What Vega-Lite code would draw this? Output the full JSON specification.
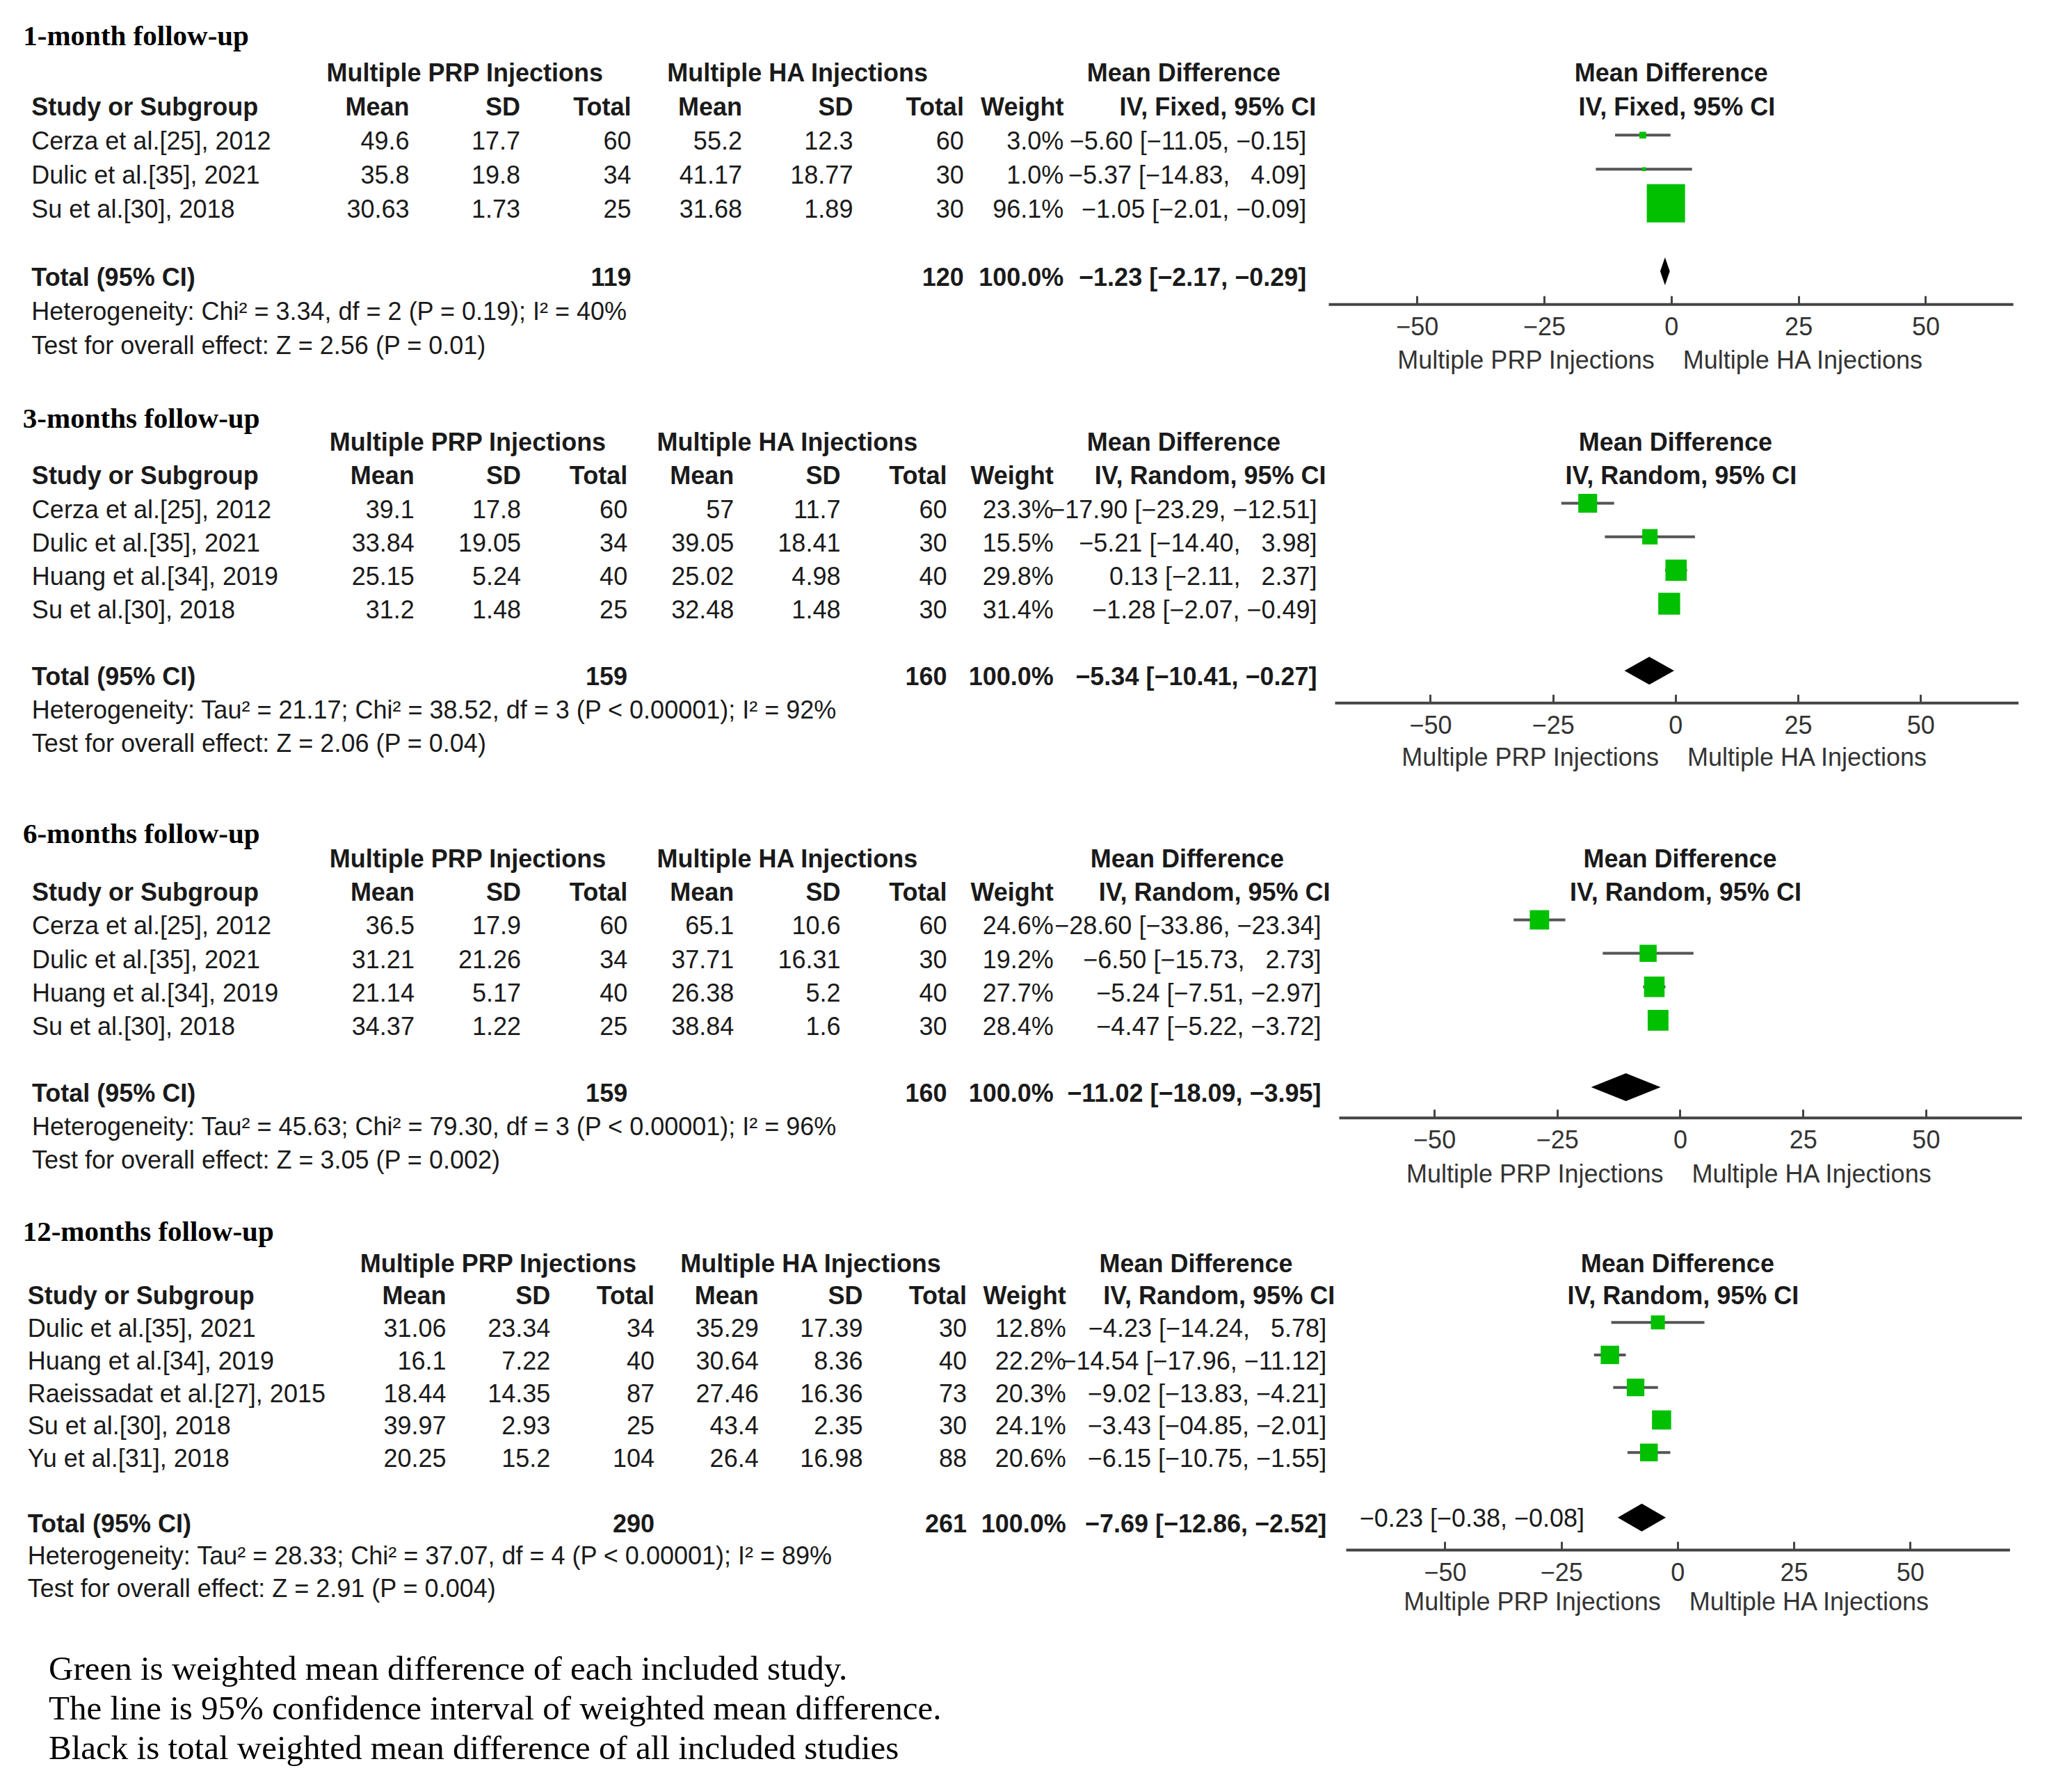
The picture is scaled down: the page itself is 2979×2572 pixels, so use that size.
{
"$schema": "https://vega.github.io/schema/vega-lite/v6.json",
"background": "white",
"padding": {"left": 17, "top": 0, "right": 0, "bottom": 0},
"spacing": 0,
"config": {"view": {"stroke": null}, "text": {"font": "Liberation Sans", "fontSize": 36, "color": "#1a1a1a"}},
"datasets": {
"head": [
{"r":0,"c":"grpA","t":"Multiple PRP Injections"},
{"r":0,"c":"grpB","t":"Multiple HA Injections"},
{"r":0,"c":"mdh","t":"Mean Difference"},
{"r":1,"c":"study","t":"Study or Subgroup"},
{"r":1,"c":"m1","t":"Mean"},{"r":1,"c":"sd1","t":"SD"},{"r":1,"c":"n1","t":"Total"},
{"r":1,"c":"m2","t":"Mean"},{"r":1,"c":"sd2","t":"SD"},{"r":1,"c":"n2","t":"Total"},
{"r":1,"c":"w","t":"Weight"}
],
"s1": [
{"kind":"study","r":2,"study":"Cerza et al.[25], 2012","m1":49.6,"sd1":17.7,"n1":60,"m2":55.2,"sd2":12.3,"n2":60,"w":0.030,"md":-5.60,"lo":-11.05,"hi":-0.15,"ci":"−5.60 [−11.05, −0.15]"},
{"kind":"study","r":3,"study":"Dulic et al.[35], 2021","m1":35.8,"sd1":19.8,"n1":34,"m2":41.17,"sd2":18.77,"n2":30,"w":0.010,"md":-5.37,"lo":-14.83,"hi":4.09,"ci":"−5.37 [−14.83, \u20074.09]"},
{"kind":"study","r":4,"study":"Su et al.[30], 2018","m1":30.63,"sd1":1.73,"n1":25,"m2":31.68,"sd2":1.89,"n2":30,"w":0.961,"md":-1.05,"lo":-2.01,"hi":-0.09,"ci":"−1.05 [−2.01, −0.09]"},
{"kind":"total","r":6,"study":"Total (95% CI)","n1":119,"n2":120,"w":1.0,"md":-1.23,"lo":-2.17,"hi":-0.29,"ci":"−1.23 [−2.17, −0.29]"}
],
"n1": [
{"r":7,"t":"Heterogeneity: Chi² = 3.34, df = 2 (P = 0.19); I² = 40%"},
{"r":8,"t":"Test for overall effect: Z = 2.56 (P = 0.01)"}
],
"s2": [
{"kind":"study","r":2,"study":"Cerza et al.[25], 2012","m1":39.1,"sd1":17.8,"n1":60,"m2":57,"sd2":11.7,"n2":60,"w":0.233,"md":-17.90,"lo":-23.29,"hi":-12.51,"ci":"−17.90 [−23.29, −12.51]"},
{"kind":"study","r":3,"study":"Dulic et al.[35], 2021","m1":33.84,"sd1":19.05,"n1":34,"m2":39.05,"sd2":18.41,"n2":30,"w":0.155,"md":-5.21,"lo":-14.40,"hi":3.98,"ci":"−5.21 [−14.40, \u20073.98]"},
{"kind":"study","r":4,"study":"Huang et al.[34], 2019","m1":25.15,"sd1":5.24,"n1":40,"m2":25.02,"sd2":4.98,"n2":40,"w":0.298,"md":0.13,"lo":-2.11,"hi":2.37,"ci":"0.13 [−2.11, \u20072.37]"},
{"kind":"study","r":5,"study":"Su et al.[30], 2018","m1":31.2,"sd1":1.48,"n1":25,"m2":32.48,"sd2":1.48,"n2":30,"w":0.314,"md":-1.28,"lo":-2.07,"hi":-0.49,"ci":"−1.28 [−2.07, −0.49]"},
{"kind":"total","r":7,"study":"Total (95% CI)","n1":159,"n2":160,"w":1.0,"md":-5.34,"lo":-10.41,"hi":-0.27,"ci":"−5.34 [−10.41, −0.27]"}
],
"n2": [
{"r":8,"t":"Heterogeneity: Tau² = 21.17; Chi² = 38.52, df = 3 (P < 0.00001); I² = 92%"},
{"r":9,"t":"Test for overall effect: Z = 2.06 (P = 0.04)"}
],
"s3": [
{"kind":"study","r":2,"study":"Cerza et al.[25], 2012","m1":36.5,"sd1":17.9,"n1":60,"m2":65.1,"sd2":10.6,"n2":60,"w":0.246,"md":-28.60,"lo":-33.86,"hi":-23.34,"ci":"−28.60 [−33.86, −23.34]"},
{"kind":"study","r":3,"study":"Dulic et al.[35], 2021","m1":31.21,"sd1":21.26,"n1":34,"m2":37.71,"sd2":16.31,"n2":30,"w":0.192,"md":-6.50,"lo":-15.73,"hi":2.73,"ci":"−6.50 [−15.73, \u20072.73]"},
{"kind":"study","r":4,"study":"Huang et al.[34], 2019","m1":21.14,"sd1":5.17,"n1":40,"m2":26.38,"sd2":5.2,"n2":40,"w":0.277,"md":-5.24,"lo":-7.51,"hi":-2.97,"ci":"−5.24 [−7.51, −2.97]"},
{"kind":"study","r":5,"study":"Su et al.[30], 2018","m1":34.37,"sd1":1.22,"n1":25,"m2":38.84,"sd2":1.6,"n2":30,"w":0.284,"md":-4.47,"lo":-5.22,"hi":-3.72,"ci":"−4.47 [−5.22, −3.72]"},
{"kind":"total","r":7,"study":"Total (95% CI)","n1":159,"n2":160,"w":1.0,"md":-11.02,"lo":-18.09,"hi":-3.95,"ci":"−11.02 [−18.09, −3.95]"}
],
"n3": [
{"r":8,"t":"Heterogeneity: Tau² = 45.63; Chi² = 79.30, df = 3 (P < 0.00001); I² = 96%"},
{"r":9,"t":"Test for overall effect: Z = 3.05 (P = 0.002)"}
],
"s4": [
{"kind":"study","r":2,"study":"Dulic et al.[35], 2021","m1":31.06,"sd1":23.34,"n1":34,"m2":35.29,"sd2":17.39,"n2":30,"w":0.128,"md":-4.23,"lo":-14.24,"hi":5.78,"ci":"−4.23 [−14.24, \u20075.78]"},
{"kind":"study","r":3,"study":"Huang et al.[34], 2019","m1":16.1,"sd1":7.22,"n1":40,"m2":30.64,"sd2":8.36,"n2":40,"w":0.222,"md":-14.54,"lo":-17.96,"hi":-11.12,"ci":"−14.54 [−17.96, −11.12]"},
{"kind":"study","r":4,"study":"Raeissadat et al.[27], 2015","m1":18.44,"sd1":14.35,"n1":87,"m2":27.46,"sd2":16.36,"n2":73,"w":0.203,"md":-9.02,"lo":-13.83,"hi":-4.21,"ci":"−9.02 [−13.83, −4.21]"},
{"kind":"study","r":5,"study":"Su et al.[30], 2018","m1":39.97,"sd1":2.93,"n1":25,"m2":43.4,"sd2":2.35,"n2":30,"w":0.241,"md":-3.43,"lo":-4.85,"hi":-2.01,"ci":"−3.43 [−04.85, −2.01]"},
{"kind":"study","r":6,"study":"Yu et al.[31], 2018","m1":20.25,"sd1":15.2,"n1":104,"m2":26.4,"sd2":16.98,"n2":88,"w":0.206,"md":-6.15,"lo":-10.75,"hi":-1.55,"ci":"−6.15 [−10.75, −1.55]"},
{"kind":"total","r":8,"study":"Total (95% CI)","n1":290,"n2":261,"w":1.0,"md":-7.69,"lo":-12.86,"hi":-2.52,"ci":"−7.69 [−12.86, −2.52]"}
],
"n4": [
{"r":9,"t":"Heterogeneity: Tau² = 28.33; Chi² = 37.07, df = 4 (P < 0.00001); I² = 89%"},
{"r":10,"t":"Test for overall effect: Z = 2.91 (P = 0.004)"}
]
},
"vconcat": [
{
"hconcat": [
{
"width": 1892.4, "height": 566.2,
"encoding": {"y": {"field": "r", "type": "quantitative", "scale": {"domain": [-2.175, 9.398], "reverse": true, "nice": false, "zero": false}, "axis": null}},
"layer": [
{"data": {"values": [{"r": -1.09, "t": "1-month follow-up"}]}, "mark": {"type": "text", "align": "left", "font": "Liberation Serif", "fontWeight": "bold", "fontSize": 41, "color": "#000", "dx": 3},
 "encoding": {"x": {"datum": "study", "type": "nominal", "scale": {"type": "point", "domain": ["study","_1","_2","_3","_4","_5","_6","m1","grpA","sd1","_10","n1","_12","m2","grpB","sd2","_16","n2","_18","w","_20","mdh","_22","ci"], "padding": 0.366, "align": 0.228}, "axis": null}, "text": {"field": "t", "type": "nominal"}}},
{"data": {"values": [{}]}, "mark": {"type": "rule", "color": "#444", "strokeWidth": 4}, "encoding": {"y": {"datum": 1.32, "type": "quantitative", "axis": null}}},
{"data": {"name": "head"}, "transform": [{"filter": "datum.c == 'grpA' || datum.c == 'grpB'"}], "mark": {"type": "text", "align": "center", "fontWeight": "bold"}, "encoding": {"x": {"field": "c", "type": "nominal", "axis": null}, "text": {"field": "t", "type": "nominal"}}},
{"data": {"name": "head"}, "transform": [{"filter": "datum.c == 'mdh'"}], "mark": {"type": "text", "align": "center", "fontWeight": "bold", "dx": -3}, "encoding": {"x": {"field": "c", "type": "nominal", "axis": null}, "text": {"field": "t", "type": "nominal"}}},
{"data": {"name": "head"}, "transform": [{"filter": "indexof(['m1','sd1','n1','m2','sd2','n2'], datum.c) >= 0"}], "mark": {"type": "text", "align": "right", "fontWeight": "bold"}, "encoding": {"x": {"field": "c", "type": "nominal", "axis": null}, "text": {"field": "t", "type": "nominal"}}},
{"data": {"name": "head"}, "transform": [{"filter": "datum.c == 'w'"}], "mark": {"type": "text", "align": "right", "fontWeight": "bold", "dx": -16}, "encoding": {"x": {"field": "c", "type": "nominal", "axis": null}, "text": {"field": "t", "type": "nominal"}}},
{"data": {"name": "head"}, "transform": [{"filter": "datum.c == 'study'"}], "mark": {"type": "text", "align": "left", "fontWeight": "bold", "dx": 15}, "encoding": {"x": {"field": "c", "type": "nominal", "axis": null}, "text": {"field": "t", "type": "nominal"}}},
{"data": {"values": [{"r": 1, "t": "IV, Fixed, 95% CI"}]}, "mark": {"type": "text", "align": "right", "fontWeight": "bold", "dx": 28}, "encoding": {"x": {"datum": "ci", "type": "nominal", "axis": null}, "text": {"field": "t", "type": "nominal"}}},
{"data": {"name": "n1"}, "mark": {"type": "text", "align": "left", "dx": 15}, "encoding": {"x": {"datum": "study", "type": "nominal", "axis": null}, "text": {"field": "t", "type": "nominal"}}},
{"data": {"name": "s1"}, "transform": [{"filter": "datum.kind == 'study'"}], "mark": {"type": "text", "align": "left", "dx": 15}, "encoding": {"x": {"datum": "study", "type": "nominal", "axis": null}, "text": {"field": "study", "type": "nominal"}}},
{"data": {"name": "s1"}, "transform": [{"filter": "datum.kind == 'total'"}], "mark": {"type": "text", "align": "left", "fontWeight": "bold", "dx": 15}, "encoding": {"x": {"datum": "study", "type": "nominal", "axis": null}, "text": {"field": "study", "type": "nominal"}}},
{"data": {"name": "s1"}, "transform": [{"filter": "datum.kind == 'study'"}, {"fold": ["m1","sd1","n1","m2","sd2","n2"], "as": ["key","value"]}], "mark": {"type": "text", "align": "right"}, "encoding": {"x": {"field": "key", "type": "nominal", "axis": null}, "text": {"field": "value", "type": "nominal"}}},
{"data": {"name": "s1"}, "transform": [{"filter": "datum.kind == 'total'"}, {"fold": ["n1","n2"], "as": ["key","value"]}], "mark": {"type": "text", "align": "right", "fontWeight": "bold"}, "encoding": {"x": {"field": "key", "type": "nominal", "axis": null}, "text": {"field": "value", "type": "nominal"}}},
{"data": {"name": "s1"}, "transform": [{"filter": "datum.kind == 'study'"}], "mark": {"type": "text", "align": "right", "dx": -16}, "encoding": {"x": {"datum": "w", "type": "nominal", "axis": null}, "text": {"field": "w", "type": "quantitative", "format": ".1%"}}},
{"data": {"name": "s1"}, "transform": [{"filter": "datum.kind == 'total'"}], "mark": {"type": "text", "align": "right", "fontWeight": "bold", "dx": -16}, "encoding": {"x": {"datum": "w", "type": "nominal", "axis": null}, "text": {"field": "w", "type": "quantitative", "format": ".1%"}}},
{"data": {"name": "s1"}, "transform": [{"filter": "datum.kind == 'study'"}], "mark": {"type": "text", "align": "right", "dx": 14}, "encoding": {"x": {"datum": "ci", "type": "nominal", "axis": null}, "text": {"field": "ci", "type": "nominal"}}},
{"data": {"name": "s1"}, "transform": [{"filter": "datum.kind == 'total'"}], "mark": {"type": "text", "align": "right", "fontWeight": "bold", "dx": 14}, "encoding": {"x": {"datum": "ci", "type": "nominal", "axis": null}, "text": {"field": "ci", "type": "nominal"}}}
]
},
{
"width": 984.2, "height": 437.2,
"encoding": {"y": {"field": "r", "type": "quantitative", "scale": {"domain": [-2.175, 6.76], "reverse": true, "nice": false, "zero": false}, "axis": null}},
"layer": [
{"data": {"values": [{}]}, "mark": {"type": "rule", "color": "#444", "strokeWidth": 2.5},
 "encoding": {"x": {"datum": 0, "type": "quantitative", "scale": {"domain": [-67.4, 67.2], "nice": false, "zero": false}, "axis": {"values": [-50,-25,0,25,50], "title": null, "grid": false, "domainColor": "#444", "domainWidth": 4, "tickColor": "#444", "tickWidth": 3, "tickSize": -12, "labelFont": "Liberation Sans", "labelFontSize": 36, "labelColor": "#333", "labelPadding": 28, "labelFlush": false, "labelOverlap": false}},
  "y": {"datum": 1.32, "type": "quantitative", "axis": null}, "y2": {"datum": 6.76}}},
{"data": {"values": [{}]}, "mark": {"type": "rule", "color": "#444", "strokeWidth": 4}, "encoding": {"x": {"datum": -67.4, "type": "quantitative"}, "x2": {"datum": 72.6}, "y": {"datum": 1.32, "type": "quantitative", "axis": null}}},
{"data": {"values": [{"r": 0, "t": "Mean Difference"}]}, "mark": {"type": "text", "align": "center", "fontWeight": "bold"}, "encoding": {"x": {"datum": 0, "type": "quantitative"}, "text": {"field": "t", "type": "nominal"}}},
{"data": {"values": [{"r": 1, "t": "IV, Fixed, 95% CI"}]}, "mark": {"type": "text", "align": "center", "fontWeight": "bold", "dx": 8}, "encoding": {"x": {"datum": 0, "type": "quantitative"}, "text": {"field": "t", "type": "nominal"}}},
{"data": {"name": "s1"}, "transform": [{"filter": "datum.kind == 'study'"}], "mark": {"type": "rule", "color": "#555", "strokeWidth": 4, "yOffset": -10}, "encoding": {"x": {"field": "lo", "type": "quantitative"}, "x2": {"field": "hi"}}},
{"data": {"name": "s1"}, "transform": [{"filter": "datum.kind == 'study'"}], "mark": {"type": "point", "shape": "square", "filled": true, "color": "#00c000", "opacity": 1, "yOffset": -10}, "encoding": {"x": {"field": "md", "type": "quantitative"}, "size": {"field": "w", "type": "quantitative", "scale": {"domain": [0, 1], "range": [0, 3150]}, "legend": null}}},
{"data": {"name": "s1"}, "transform": [{"filter": "datum.kind == 'total'"}], "mark": {"type": "point", "shape": "M-0.344,0L0,-1L0.344,0L0,1Z", "filled": true, "color": "#000", "opacity": 1, "size": 1600, "yOffset": -10}, "encoding": {"x": {"field": "md", "type": "quantitative"}}},
{"data": {"values": [{"r": 8.43, "t": "Multiple PRP Injections"}]}, "mark": {"type": "text", "align": "right", "dx": -24, "color": "#333"}, "encoding": {"x": {"datum": 0, "type": "quantitative"}, "text": {"field": "t", "type": "nominal"}}},
{"data": {"values": [{"r": 8.43, "t": "Multiple HA Injections"}]}, "mark": {"type": "text", "align": "left", "dx": 17, "color": "#333"}, "encoding": {"x": {"datum": 0, "type": "quantitative"}, "text": {"field": "t", "type": "nominal"}}}
]
}
],
"spacing": 0, "bounds": "flush"
},
{
"hconcat": [
{
"width": 1901.9, "height": 596.6,
"encoding": {"y": {"field": "r", "type": "quantitative", "scale": {"domain": [-1.461, 10.936], "reverse": true, "nice": false, "zero": false}, "axis": null}},
"layer": [
{"data": {"values": [{"r": -0.71, "t": "3-months follow-up"}]}, "mark": {"type": "text", "align": "left", "font": "Liberation Serif", "fontWeight": "bold", "fontSize": 41, "color": "#000", "dx": -27},
 "encoding": {"x": {"datum": "study", "type": "nominal", "scale": {"type": "point", "domain": ["study","_1","_2","_3","_4","_5","_6","m1","grpA","sd1","_10","n1","_12","m2","grpB","sd2","_16","n2","_18","w","_20","mdh","_22","_23","ci"], "padding": 0.419, "align": 0.668}, "axis": null}, "text": {"field": "t", "type": "nominal"}}},
{"data": {"values": [{}]}, "mark": {"type": "rule", "color": "#444", "strokeWidth": 4}, "encoding": {"y": {"datum": 1.32, "type": "quantitative", "axis": null}}},
{"data": {"name": "head"}, "transform": [{"filter": "datum.c == 'grpA' || datum.c == 'grpB'"}], "mark": {"type": "text", "align": "center", "fontWeight": "bold"}, "encoding": {"x": {"field": "c", "type": "nominal", "axis": null}, "text": {"field": "t", "type": "nominal"}}},
{"data": {"name": "head"}, "transform": [{"filter": "datum.c == 'mdh'"}], "mark": {"type": "text", "align": "center", "fontWeight": "bold", "dx": 34}, "encoding": {"x": {"field": "c", "type": "nominal", "axis": null}, "text": {"field": "t", "type": "nominal"}}},
{"data": {"name": "head"}, "transform": [{"filter": "indexof(['m1','sd1','n1','m2','sd2','n2','w'], datum.c) >= 0"}], "mark": {"type": "text", "align": "right", "fontWeight": "bold"}, "encoding": {"x": {"field": "c", "type": "nominal", "axis": null}, "text": {"field": "t", "type": "nominal"}}},
{"data": {"name": "head"}, "transform": [{"filter": "datum.c == 'study'"}], "mark": {"type": "text", "align": "left", "fontWeight": "bold", "dx": -14}, "encoding": {"x": {"field": "c", "type": "nominal", "axis": null}, "text": {"field": "t", "type": "nominal"}}},
{"data": {"values": [{"r": 1, "t": "IV, Random, 95% CI"}]}, "mark": {"type": "text", "align": "right", "fontWeight": "bold", "dx": 9}, "encoding": {"x": {"datum": "ci", "type": "nominal", "axis": null}, "text": {"field": "t", "type": "nominal"}}},
{"data": {"name": "n2"}, "mark": {"type": "text", "align": "left", "dx": -14}, "encoding": {"x": {"datum": "study", "type": "nominal", "axis": null}, "text": {"field": "t", "type": "nominal"}}},
{"data": {"name": "s2"}, "transform": [{"filter": "datum.kind == 'study'"}], "mark": {"type": "text", "align": "left", "dx": -14}, "encoding": {"x": {"datum": "study", "type": "nominal", "axis": null}, "text": {"field": "study", "type": "nominal"}}},
{"data": {"name": "s2"}, "transform": [{"filter": "datum.kind == 'total'"}], "mark": {"type": "text", "align": "left", "fontWeight": "bold", "dx": -14}, "encoding": {"x": {"datum": "study", "type": "nominal", "axis": null}, "text": {"field": "study", "type": "nominal"}}},
{"data": {"name": "s2"}, "transform": [{"filter": "datum.kind == 'study'"}, {"fold": ["m1","sd1","n1","m2","sd2","n2"], "as": ["key","value"]}], "mark": {"type": "text", "align": "right"}, "encoding": {"x": {"field": "key", "type": "nominal", "axis": null}, "text": {"field": "value", "type": "nominal"}}},
{"data": {"name": "s2"}, "transform": [{"filter": "datum.kind == 'total'"}, {"fold": ["n1","n2"], "as": ["key","value"]}], "mark": {"type": "text", "align": "right", "fontWeight": "bold"}, "encoding": {"x": {"field": "key", "type": "nominal", "axis": null}, "text": {"field": "value", "type": "nominal"}}},
{"data": {"name": "s2"}, "transform": [{"filter": "datum.kind == 'study'"}], "mark": {"type": "text", "align": "right"}, "encoding": {"x": {"datum": "w", "type": "nominal", "axis": null}, "text": {"field": "w", "type": "quantitative", "format": ".1%"}}},
{"data": {"name": "s2"}, "transform": [{"filter": "datum.kind == 'total'"}], "mark": {"type": "text", "align": "right", "fontWeight": "bold"}, "encoding": {"x": {"datum": "w", "type": "nominal", "axis": null}, "text": {"field": "w", "type": "quantitative", "format": ".1%"}}},
{"data": {"name": "s2"}, "transform": [{"filter": "datum.kind == 'study'"}], "mark": {"type": "text", "align": "right", "dx": -4}, "encoding": {"x": {"datum": "ci", "type": "nominal", "axis": null}, "text": {"field": "ci", "type": "nominal"}}},
{"data": {"name": "s2"}, "transform": [{"filter": "datum.kind == 'total'"}], "mark": {"type": "text", "align": "right", "fontWeight": "bold", "dx": -4}, "encoding": {"x": {"datum": "ci", "type": "nominal", "axis": null}, "text": {"field": "ci", "type": "nominal"}}}
]
},
{
"width": 982.6, "height": 443.3,
"encoding": {"y": {"field": "r", "type": "quantitative", "scale": {"domain": [-1.461, 7.75], "reverse": true, "nice": false, "zero": false}, "axis": null}},
"layer": [
{"data": {"values": [{}]}, "mark": {"type": "rule", "color": "#444", "strokeWidth": 2.5},
 "encoding": {"x": {"datum": 0, "type": "quantitative", "scale": {"domain": [-69.5, 69.9], "nice": false, "zero": false}, "axis": {"values": [-50,-25,0,25,50], "title": null, "grid": false, "domainColor": "#444", "domainWidth": 4, "tickColor": "#444", "tickWidth": 3, "tickSize": -12, "labelFont": "Liberation Sans", "labelFontSize": 36, "labelColor": "#333", "labelPadding": 28, "labelFlush": false, "labelOverlap": false}},
  "y": {"datum": 1.32, "type": "quantitative", "axis": null}, "y2": {"datum": 7.75}}},
{"data": {"values": [{}]}, "mark": {"type": "rule", "color": "#444", "strokeWidth": 4}, "encoding": {"x": {"datum": -69.5, "type": "quantitative"}, "x2": {"datum": 74.8}, "y": {"datum": 1.32, "type": "quantitative", "axis": null}}},
{"data": {"values": [{"r": 0, "t": "Mean Difference"}]}, "mark": {"type": "text", "align": "center", "fontWeight": "bold"}, "encoding": {"x": {"datum": 0, "type": "quantitative"}, "text": {"field": "t", "type": "nominal"}}},
{"data": {"values": [{"r": 1, "t": "IV, Random, 95% CI"}]}, "mark": {"type": "text", "align": "center", "fontWeight": "bold", "dx": 8}, "encoding": {"x": {"datum": 0, "type": "quantitative"}, "text": {"field": "t", "type": "nominal"}}},
{"data": {"name": "s2"}, "transform": [{"filter": "datum.kind == 'study'"}], "mark": {"type": "rule", "color": "#555", "strokeWidth": 4, "yOffset": -10}, "encoding": {"x": {"field": "lo", "type": "quantitative"}, "x2": {"field": "hi"}}},
{"data": {"name": "s2"}, "transform": [{"filter": "datum.kind == 'study'"}], "mark": {"type": "point", "shape": "square", "filled": true, "color": "#00c000", "opacity": 1, "yOffset": -10}, "encoding": {"x": {"field": "md", "type": "quantitative"}, "size": {"field": "w", "type": "quantitative", "scale": {"domain": [0, 1], "range": [0, 1500]}, "legend": null}}},
{"data": {"name": "s2"}, "transform": [{"filter": "datum.kind == 'total'"}], "mark": {"type": "point", "shape": "M-1.785,0L0,-1L1.785,0L0,1Z", "filled": true, "color": "#000", "opacity": 1, "size": 1600, "yOffset": -10}, "encoding": {"x": {"field": "md", "type": "quantitative"}}},
{"data": {"values": [{"r": 9.4, "t": "Multiple PRP Injections"}]}, "mark": {"type": "text", "align": "right", "dx": -24, "color": "#333"}, "encoding": {"x": {"datum": 0, "type": "quantitative"}, "text": {"field": "t", "type": "nominal"}}},
{"data": {"values": [{"r": 9.4, "t": "Multiple HA Injections"}]}, "mark": {"type": "text", "align": "left", "dx": 17, "color": "#333"}, "encoding": {"x": {"datum": 0, "type": "quantitative"}, "text": {"field": "t", "type": "nominal"}}}
]
}
],
"spacing": 0, "bounds": "flush"
},
{
"hconcat": [
{
"width": 1907.6, "height": 571.9,
"encoding": {"y": {"field": "r", "type": "quantitative", "scale": {"domain": [-1.5, 10.383], "reverse": true, "nice": false, "zero": false}, "axis": null}},
"layer": [
{"data": {"values": [{"r": -0.75, "t": "6-months follow-up"}]}, "mark": {"type": "text", "align": "left", "font": "Liberation Serif", "fontWeight": "bold", "fontSize": 41, "color": "#000", "dx": -27},
 "encoding": {"x": {"datum": "study", "type": "nominal", "scale": {"type": "point", "domain": ["study","_1","_2","_3","_4","_5","_6","m1","grpA","sd1","_10","n1","_12","m2","grpB","sd2","_16","n2","_18","w","_20","mdh","_22","_23","ci"], "padding": 0.4565, "align": 0.614}, "axis": null}, "text": {"field": "t", "type": "nominal"}}},
{"data": {"values": [{}]}, "mark": {"type": "rule", "color": "#444", "strokeWidth": 4}, "encoding": {"y": {"datum": 1.3, "type": "quantitative", "axis": null}}},
{"data": {"name": "head"}, "transform": [{"filter": "datum.c == 'grpA' || datum.c == 'grpB'"}], "mark": {"type": "text", "align": "center", "fontWeight": "bold"}, "encoding": {"x": {"field": "c", "type": "nominal", "axis": null}, "text": {"field": "t", "type": "nominal"}}},
{"data": {"name": "head"}, "transform": [{"filter": "datum.c == 'mdh'"}], "mark": {"type": "text", "align": "center", "fontWeight": "bold", "dx": 39}, "encoding": {"x": {"field": "c", "type": "nominal", "axis": null}, "text": {"field": "t", "type": "nominal"}}},
{"data": {"name": "head"}, "transform": [{"filter": "indexof(['m1','sd1','n1','m2','sd2','n2','w'], datum.c) >= 0"}], "mark": {"type": "text", "align": "right", "fontWeight": "bold"}, "encoding": {"x": {"field": "c", "type": "nominal", "axis": null}, "text": {"field": "t", "type": "nominal"}}},
{"data": {"name": "head"}, "transform": [{"filter": "datum.c == 'study'"}], "mark": {"type": "text", "align": "left", "fontWeight": "bold", "dx": -14}, "encoding": {"x": {"field": "c", "type": "nominal", "axis": null}, "text": {"field": "t", "type": "nominal"}}},
{"data": {"values": [{"r": 1, "t": "IV, Random, 95% CI"}]}, "mark": {"type": "text", "align": "right", "fontWeight": "bold", "dx": 15}, "encoding": {"x": {"datum": "ci", "type": "nominal", "axis": null}, "text": {"field": "t", "type": "nominal"}}},
{"data": {"name": "n3"}, "mark": {"type": "text", "align": "left", "dx": -14}, "encoding": {"x": {"datum": "study", "type": "nominal", "axis": null}, "text": {"field": "t", "type": "nominal"}}},
{"data": {"name": "s3"}, "transform": [{"filter": "datum.kind == 'study'"}], "mark": {"type": "text", "align": "left", "dx": -14}, "encoding": {"x": {"datum": "study", "type": "nominal", "axis": null}, "text": {"field": "study", "type": "nominal"}}},
{"data": {"name": "s3"}, "transform": [{"filter": "datum.kind == 'total'"}], "mark": {"type": "text", "align": "left", "fontWeight": "bold", "dx": -14}, "encoding": {"x": {"datum": "study", "type": "nominal", "axis": null}, "text": {"field": "study", "type": "nominal"}}},
{"data": {"name": "s3"}, "transform": [{"filter": "datum.kind == 'study'"}, {"fold": ["m1","sd1","n1","m2","sd2","n2"], "as": ["key","value"]}], "mark": {"type": "text", "align": "right"}, "encoding": {"x": {"field": "key", "type": "nominal", "axis": null}, "text": {"field": "value", "type": "nominal"}}},
{"data": {"name": "s3"}, "transform": [{"filter": "datum.kind == 'total'"}, {"fold": ["n1","n2"], "as": ["key","value"]}], "mark": {"type": "text", "align": "right", "fontWeight": "bold"}, "encoding": {"x": {"field": "key", "type": "nominal", "axis": null}, "text": {"field": "value", "type": "nominal"}}},
{"data": {"name": "s3"}, "transform": [{"filter": "datum.kind == 'study'"}], "mark": {"type": "text", "align": "right"}, "encoding": {"x": {"datum": "w", "type": "nominal", "axis": null}, "text": {"field": "w", "type": "quantitative", "format": ".1%"}}},
{"data": {"name": "s3"}, "transform": [{"filter": "datum.kind == 'total'"}], "mark": {"type": "text", "align": "right", "fontWeight": "bold"}, "encoding": {"x": {"datum": "w", "type": "nominal", "axis": null}, "text": {"field": "w", "type": "quantitative", "format": ".1%"}}},
{"data": {"name": "s3"}, "transform": [{"filter": "datum.kind == 'study'"}], "mark": {"type": "text", "align": "right", "dx": 2}, "encoding": {"x": {"datum": "ci", "type": "nominal", "axis": null}, "text": {"field": "ci", "type": "nominal"}}},
{"data": {"name": "s3"}, "transform": [{"filter": "datum.kind == 'total'"}], "mark": {"type": "text", "align": "right", "fontWeight": "bold", "dx": 2}, "encoding": {"x": {"datum": "ci", "type": "nominal", "axis": null}, "text": {"field": "ci", "type": "nominal"}}}
]
},
{
"width": 981.7, "height": 442.8,
"encoding": {"y": {"field": "r", "type": "quantitative", "scale": {"domain": [-1.5, 7.7], "reverse": true, "nice": false, "zero": false}, "axis": null}},
"layer": [
{"data": {"values": [{}]}, "mark": {"type": "rule", "color": "#444", "strokeWidth": 2.5},
 "encoding": {"x": {"datum": 0, "type": "quantitative", "scale": {"domain": [-69.4, 69.5], "nice": false, "zero": false}, "axis": {"values": [-50,-25,0,25,50], "title": null, "grid": false, "domainColor": "#444", "domainWidth": 4, "tickColor": "#444", "tickWidth": 3, "tickSize": -12, "labelFont": "Liberation Sans", "labelFontSize": 36, "labelColor": "#333", "labelPadding": 28, "labelFlush": false, "labelOverlap": false}},
  "y": {"datum": 1.3, "type": "quantitative", "axis": null}, "y2": {"datum": 7.7}}},
{"data": {"values": [{}]}, "mark": {"type": "rule", "color": "#444", "strokeWidth": 4}, "encoding": {"x": {"datum": -69.4, "type": "quantitative"}, "x2": {"datum": 74.5}, "y": {"datum": 1.3, "type": "quantitative", "axis": null}}},
{"data": {"values": [{"r": 0, "t": "Mean Difference"}]}, "mark": {"type": "text", "align": "center", "fontWeight": "bold"}, "encoding": {"x": {"datum": 0, "type": "quantitative"}, "text": {"field": "t", "type": "nominal"}}},
{"data": {"values": [{"r": 1, "t": "IV, Random, 95% CI"}]}, "mark": {"type": "text", "align": "center", "fontWeight": "bold", "dx": 8}, "encoding": {"x": {"datum": 0, "type": "quantitative"}, "text": {"field": "t", "type": "nominal"}}},
{"data": {"name": "s3"}, "transform": [{"filter": "datum.kind == 'study'"}], "mark": {"type": "rule", "color": "#555", "strokeWidth": 4, "yOffset": -10}, "encoding": {"x": {"field": "lo", "type": "quantitative"}, "x2": {"field": "hi"}}},
{"data": {"name": "s3"}, "transform": [{"filter": "datum.kind == 'study'"}], "mark": {"type": "point", "shape": "square", "filled": true, "color": "#00c000", "opacity": 1, "yOffset": -10}, "encoding": {"x": {"field": "md", "type": "quantitative"}, "size": {"field": "w", "type": "quantitative", "scale": {"domain": [0, 1], "range": [0, 1500]}, "legend": null}}},
{"data": {"name": "s3"}, "transform": [{"filter": "datum.kind == 'total'"}], "mark": {"type": "point", "shape": "M-2.5,0L0,-1L2.5,0L0,1Z", "filled": true, "color": "#000", "opacity": 1, "size": 1600, "yOffset": -10}, "encoding": {"x": {"field": "md", "type": "quantitative"}}},
{"data": {"values": [{"r": 9.4, "t": "Multiple PRP Injections"}]}, "mark": {"type": "text", "align": "right", "dx": -24, "color": "#333"}, "encoding": {"x": {"datum": 0, "type": "quantitative"}, "text": {"field": "t", "type": "nominal"}}},
{"data": {"values": [{"r": 9.4, "t": "Multiple HA Injections"}]}, "mark": {"type": "text", "align": "left", "dx": 17, "color": "#333"}, "encoding": {"x": {"datum": 0, "type": "quantitative"}, "text": {"field": "t", "type": "nominal"}}}
]
}
],
"spacing": 0, "bounds": "flush"
},
{
"hconcat": [
{
"width": 1917.1, "height": 621.3,
"encoding": {"y": {"field": "r", "type": "quantitative", "scale": {"domain": [-1.748, 11.545], "reverse": true, "nice": false, "zero": false}, "axis": null}},
"layer": [
{"data": {"values": [{"r": -0.98, "t": "12-months follow-up"}]}, "mark": {"type": "text", "align": "left", "font": "Liberation Serif", "fontWeight": "bold", "fontSize": 41, "color": "#000", "dx": -10},
 "encoding": {"x": {"datum": "study", "type": "nominal", "scale": {"type": "point", "domain": ["study","_1","_2","_3","_4","_5","_6","_7","m1","grpA","sd1","_11","n1","_13","m2","grpB","sd2","_17","n2","_19","w","_21","mdh","_23","_24","ci"], "padding": 0.3046, "align": 0.5625}, "axis": null}, "text": {"field": "t", "type": "nominal"}}},
{"data": {"values": [{}]}, "mark": {"type": "rule", "color": "#444", "strokeWidth": 4}, "encoding": {"y": {"datum": 1.3, "type": "quantitative", "axis": null}}},
{"data": {"name": "head"}, "transform": [{"filter": "datum.c == 'grpA' || datum.c == 'grpB'"}], "mark": {"type": "text", "align": "center", "fontWeight": "bold"}, "encoding": {"x": {"field": "c", "type": "nominal", "axis": null}, "text": {"field": "t", "type": "nominal"}}},
{"data": {"name": "head"}, "transform": [{"filter": "datum.c == 'mdh'"}], "mark": {"type": "text", "align": "center", "fontWeight": "bold", "dx": 30}, "encoding": {"x": {"field": "c", "type": "nominal", "axis": null}, "text": {"field": "t", "type": "nominal"}}},
{"data": {"name": "head"}, "transform": [{"filter": "indexof(['m1','sd1','n1','m2','sd2','n2'], datum.c) >= 0"}], "mark": {"type": "text", "align": "right", "fontWeight": "bold"}, "encoding": {"x": {"field": "c", "type": "nominal", "axis": null}, "text": {"field": "t", "type": "nominal"}}},
{"data": {"name": "head"}, "transform": [{"filter": "datum.c == 'w'"}], "mark": {"type": "text", "align": "right", "fontWeight": "bold", "dx": -7}, "encoding": {"x": {"field": "c", "type": "nominal", "axis": null}, "text": {"field": "t", "type": "nominal"}}},
{"data": {"name": "head"}, "transform": [{"filter": "datum.c == 'study'"}], "mark": {"type": "text", "align": "left", "fontWeight": "bold", "dx": -3}, "encoding": {"x": {"field": "c", "type": "nominal", "axis": null}, "text": {"field": "t", "type": "nominal"}}},
{"data": {"values": [{"r": 1, "t": "IV, Random, 95% CI"}]}, "mark": {"type": "text", "align": "right", "fontWeight": "bold", "dx": 5}, "encoding": {"x": {"datum": "ci", "type": "nominal", "axis": null}, "text": {"field": "t", "type": "nominal"}}},
{"data": {"name": "n4"}, "mark": {"type": "text", "align": "left", "dx": -3}, "encoding": {"x": {"datum": "study", "type": "nominal", "axis": null}, "text": {"field": "t", "type": "nominal"}}},
{"data": {"name": "s4"}, "transform": [{"filter": "datum.kind == 'study'"}], "mark": {"type": "text", "align": "left", "dx": -3}, "encoding": {"x": {"datum": "study", "type": "nominal", "axis": null}, "text": {"field": "study", "type": "nominal"}}},
{"data": {"name": "s4"}, "transform": [{"filter": "datum.kind == 'total'"}], "mark": {"type": "text", "align": "left", "fontWeight": "bold", "dx": -3}, "encoding": {"x": {"datum": "study", "type": "nominal", "axis": null}, "text": {"field": "study", "type": "nominal"}}},
{"data": {"name": "s4"}, "transform": [{"filter": "datum.kind == 'study'"}, {"fold": ["m1","sd1","n1","m2","sd2","n2"], "as": ["key","value"]}], "mark": {"type": "text", "align": "right"}, "encoding": {"x": {"field": "key", "type": "nominal", "axis": null}, "text": {"field": "value", "type": "nominal"}}},
{"data": {"name": "s4"}, "transform": [{"filter": "datum.kind == 'total'"}, {"fold": ["n1","n2"], "as": ["key","value"]}], "mark": {"type": "text", "align": "right", "fontWeight": "bold"}, "encoding": {"x": {"field": "key", "type": "nominal", "axis": null}, "text": {"field": "value", "type": "nominal"}}},
{"data": {"name": "s4"}, "transform": [{"filter": "datum.kind == 'study'"}], "mark": {"type": "text", "align": "right", "dx": -7}, "encoding": {"x": {"datum": "w", "type": "nominal", "axis": null}, "text": {"field": "w", "type": "quantitative", "format": ".1%"}}},
{"data": {"name": "s4"}, "transform": [{"filter": "datum.kind == 'total'"}], "mark": {"type": "text", "align": "right", "fontWeight": "bold", "dx": -7}, "encoding": {"x": {"datum": "w", "type": "nominal", "axis": null}, "text": {"field": "w", "type": "quantitative", "format": ".1%"}}},
{"data": {"name": "s4"}, "transform": [{"filter": "datum.kind == 'study'"}], "mark": {"type": "text", "align": "right", "dx": -7}, "encoding": {"x": {"datum": "ci", "type": "nominal", "axis": null}, "text": {"field": "ci", "type": "nominal"}}},
{"data": {"name": "s4"}, "transform": [{"filter": "datum.kind == 'total'"}], "mark": {"type": "text", "align": "right", "fontWeight": "bold", "dx": -7}, "encoding": {"x": {"datum": "ci", "type": "nominal", "axis": null}, "text": {"field": "ci", "type": "nominal"}}}
]
},
{
"width": 954.4, "height": 492.1,
"encoding": {"y": {"field": "r", "type": "quantitative", "scale": {"domain": [-1.748, 8.78], "reverse": true, "nice": false, "zero": false}, "axis": null}},
"layer": [
{"data": {"values": [{}]}, "mark": {"type": "rule", "color": "#444", "strokeWidth": 2.5},
 "encoding": {"x": {"datum": 0, "type": "quantitative", "scale": {"domain": [-71.3, 71.4], "nice": false, "zero": false}, "axis": {"values": [-50,-25,0,25,50], "title": null, "grid": false, "domainColor": "#444", "domainWidth": 4, "tickColor": "#444", "tickWidth": 3, "tickSize": -12, "labelFont": "Liberation Sans", "labelFontSize": 36, "labelColor": "#333", "labelPadding": 28, "labelFlush": false, "labelOverlap": false}},
  "y": {"datum": 1.3, "type": "quantitative", "axis": null}, "y2": {"datum": 8.78}}},
{"data": {"values": [{}]}, "mark": {"type": "rule", "color": "#444", "strokeWidth": 4}, "encoding": {"x": {"datum": -71.3, "type": "quantitative"}, "x2": {"datum": 76.2}, "y": {"datum": 1.3, "type": "quantitative", "axis": null}}},
{"data": {"values": [{"r": 0, "t": "Mean Difference"}]}, "mark": {"type": "text", "align": "center", "fontWeight": "bold"}, "encoding": {"x": {"datum": 0, "type": "quantitative"}, "text": {"field": "t", "type": "nominal"}}},
{"data": {"values": [{"r": 1, "t": "IV, Random, 95% CI"}]}, "mark": {"type": "text", "align": "center", "fontWeight": "bold", "dx": 8}, "encoding": {"x": {"datum": 0, "type": "quantitative"}, "text": {"field": "t", "type": "nominal"}}},
{"data": {"name": "s4"}, "transform": [{"filter": "datum.kind == 'study'"}], "mark": {"type": "rule", "color": "#555", "strokeWidth": 4, "yOffset": -10}, "encoding": {"x": {"field": "lo", "type": "quantitative"}, "x2": {"field": "hi"}}},
{"data": {"name": "s4"}, "transform": [{"filter": "datum.kind == 'study'"}], "mark": {"type": "point", "shape": "square", "filled": true, "color": "#00c000", "opacity": 1, "yOffset": -10}, "encoding": {"x": {"field": "md", "type": "quantitative"}, "size": {"field": "w", "type": "quantitative", "scale": {"domain": [0, 1], "range": [0, 1500]}, "legend": null}}},
{"data": {"name": "s4"}, "transform": [{"filter": "datum.kind == 'total'"}], "mark": {"type": "point", "shape": "M-1.73,0L0,-1L1.73,0L0,1Z", "filled": true, "color": "#000", "opacity": 1, "size": 1600, "yOffset": -10}, "encoding": {"x": {"field": "md", "type": "quantitative"}}},
{"data": {"values": [{"r": 8, "t": "−0.23 [−0.38, −0.08]"}]}, "mark": {"type": "text", "align": "right", "yOffset": -8}, "encoding": {"x": {"datum": -20, "type": "quantitative"}, "text": {"field": "t", "type": "nominal"}}},
{"data": {"values": [{"r": 10.41, "t": "Multiple PRP Injections"}]}, "mark": {"type": "text", "align": "right", "dx": -24, "color": "#333"}, "encoding": {"x": {"datum": 0, "type": "quantitative"}, "text": {"field": "t", "type": "nominal"}}},
{"data": {"values": [{"r": 10.41, "t": "Multiple HA Injections"}]}, "mark": {"type": "text", "align": "left", "dx": 17, "color": "#333"}, "encoding": {"x": {"datum": 0, "type": "quantitative"}, "text": {"field": "t", "type": "nominal"}}}
]
}
],
"spacing": 0, "bounds": "flush"
},
{
"width": 1500, "height": 216,
"data": {"values": [
{"line": 1, "t": "Green is weighted mean difference of each included study."},
{"line": 2, "t": "The line is 95% confidence interval of weighted mean difference."},
{"line": 3, "t": "Black is total weighted mean difference of all included studies"}
]},
"mark": {"type": "text", "align": "left", "font": "Liberation Serif", "fontSize": 49, "color": "#000", "dx": 53},
"encoding": {
"x": {"datum": "note", "type": "nominal", "scale": {"type": "point", "domain": ["note"], "padding": 0, "align": 0}, "axis": null},
"y": {"field": "line", "type": "quantitative", "scale": {"domain": [0.263, 4.052], "reverse": true, "nice": false, "zero": false}, "axis": null},
"text": {"field": "t", "type": "nominal"}
}
}
]
}
